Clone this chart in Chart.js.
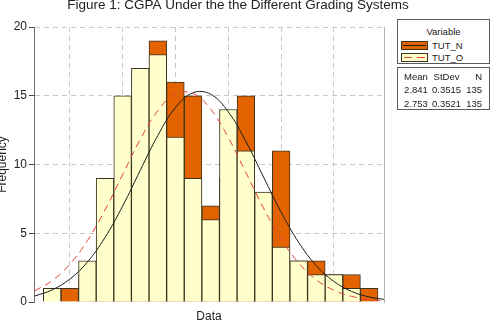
<!DOCTYPE html>
<html>
<head>
<meta charset="utf-8">
<script src="https://cdn.jsdelivr.net/npm/chart.js@4.4.1/dist/chart.umd.min.js"></script>
<style>
  html, body { margin: 0; padding: 0; background: #fff; }
  #wrap { position: relative; width: 493px; height: 327px; overflow: hidden; }
  #chart { position: absolute; left: 0; top: 0; }
  .box {
    position: absolute; left: 397px; width: 93px; box-sizing: border-box;
    border: 1px solid #5a5a5a; background: #fff;
    font: 9.5px "Liberation Sans", Arial, sans-serif; color: #222;
  }
  .box div { position: absolute; line-height: 11px; white-space: nowrap; }
  .swatch { width: 27px; height: 9px; box-sizing: border-box; border: 1px solid #3c3320; }
  .swatch i { position: absolute; left: 1px; right: 1px; top: 3px; height: 1px; }
</style>
</head>
<body>
<div id="wrap">
  <canvas id="chart" width="493" height="327"></canvas>
  <div class="box" id="legend-vars" style="top:19px;height:45px;"></div>
  <div class="box" id="legend-stats" style="top:67px;height:43px;"></div>
</div>
<script>
  const TITLE = "Figure 1: CGPA Under the the Different Grading Systems";
  const X_TITLE = "Data";
  const Y_TITLE = "Frequency";

  // histogram bins (midpoints, width 0.1)
  const binCenters = [2.0, 2.1, 2.2, 2.3, 2.4, 2.5, 2.6, 2.7, 2.8, 2.9, 3.0, 3.1, 3.2, 3.3, 3.4, 3.5, 3.6, 3.7, 3.8];
  const countsN = [0, 1, 2, 5, 8, 10, 19, 16, 15, 7, 9, 15, 6, 11, 3, 3, 2, 2, 1];
  const countsO = [1, 0, 3, 9, 15, 17, 18, 12, 9, 6, 14, 11, 8, 4, 3, 2, 2, 1, 0];

  // fitted normal curves
  const fitX = [1.9, 2.0, 2.1, 2.2, 2.3, 2.4, 2.5, 2.6, 2.7, 2.8, 2.9, 3.0, 3.1, 3.2, 3.3, 3.4, 3.5, 3.6, 3.7, 3.8, 3.9];
  const fitN = [0.43, 0.88, 1.66, 2.90, 4.69, 6.97, 9.57, 12.11, 14.14, 15.22, 15.11, 13.83, 11.68, 9.09, 6.53, 4.33, 2.64, 1.49, 0.77, 0.37, 0.16];
  const fitO = [0.81, 1.55, 2.74, 4.46, 6.69, 9.26, 11.82, 13.92, 15.13, 15.16, 14.02, 11.96, 9.41, 6.83, 4.58, 2.83, 1.61, 0.85, 0.41, 0.18, 0.08];

  const seriesNames = ["TUT_N", "TUT_O"];
  const statMean = ["2.841", "2.753"];
  const statStDev = ["0.3515", "0.3521"];
  const statN = ["135", "135"];

  const xGridTicks = [2.1, 2.4, 2.7, 3.0, 3.3, 3.6];
  const yTicks = [0, 5, 10, 15, 20];

  const ORANGE = "#e26300";
  const YELLOW = "#ffffcc";
  const EDGE = "#3c3320";
  const RED = "#e8413a";
  const FONT = "'Liberation Sans', Arial, sans-serif";

  buildLegend();

  new Chart(document.getElementById("chart"), {
    type: "bar",
    data: {
      datasets: [
        {
          type: "line",
          label: seriesNames[1] + " fit",
          data: fitX.map((x, i) => ({ x, y: fitO[i] })),
          borderColor: RED,
          borderWidth: 1,
          borderDash: [7, 5],
          pointRadius: 0,
          tension: 0.4,
          order: 0,
        },
        {
          type: "line",
          label: seriesNames[0] + " fit",
          data: fitX.map((x, i) => ({ x, y: fitN[i] })),
          borderColor: "#1e1e1e",
          borderWidth: 1,
          pointRadius: 0,
          tension: 0.4,
          order: 1,
        },
        {
          label: seriesNames[1],
          data: binCenters.map((x, i) => ({ x, y: countsO[i] })),
          backgroundColor: YELLOW,
          borderColor: EDGE,
          borderWidth: 1,
          grouped: false,
          barPercentage: 1,
          categoryPercentage: 1,
          order: 2,
        },
        {
          label: seriesNames[0],
          data: binCenters.map((x, i) => ({ x, y: countsN[i] })),
          backgroundColor: ORANGE,
          borderColor: EDGE,
          borderWidth: 1,
          grouped: false,
          barPercentage: 1,
          categoryPercentage: 1,
          order: 3,
        },
      ],
    },
    options: {
      responsive: false,
      animation: false,
      layout: { padding: { left: 0, right: 17, top: 0, bottom: 0 } },
      plugins: {
        legend: { display: false },
        tooltip: { enabled: false },
        title: {
          display: true,
          text: TITLE,
          color: "#222",
          font: { family: FONT, size: 13.5, weight: "normal" },
          padding: { top: -3, bottom: 13.8 },
        },
      },
      scales: {
        x: {
          type: "linear",
          min: 1.897,
          max: 3.884,
          offset: false,
          afterBuildTicks(scale) {
            scale.ticks = xGridTicks.map((value) => ({ value }));
          },
          afterFit(scale) {
            scale.height = 25;
          },
          ticks: { display: false },
          grid: { color: "#c8c8c8", drawTicks: false, tickLength: 0, offset: false },
          border: { display: false, dash: [5, 4] },
          title: {
            display: true,
            text: X_TITLE,
            color: "#222",
            font: { family: FONT, size: 12 },
            padding: { top: 0, bottom: 3 },
          },
        },
        y: {
          min: 0,
          max: 20,
          afterBuildTicks(scale) {
            scale.ticks = yTicks.map((value) => ({ value }));
          },
          afterFit(scale) {
            scale.width = 34;
          },
          ticks: { color: "#222", font: { family: FONT, size: 12 }, padding: 2 },
          grid: {
            color: (ctx) => (ctx.tick && ctx.tick.value === 0 ? "rgba(0,0,0,0)" : "#c8c8c8"),
            tickColor: "#444",
            tickLength: 5,
          },
          border: { display: true, color: "#6e6e6e", dash: [5, 4] },
          title: {
            display: true,
            text: Y_TITLE,
            color: "#222",
            font: { family: FONT, size: 12 },
            padding: { top: -4.2, bottom: 0 },
          },
        },
        y2: {
          position: "right",
          min: 0,
          max: 20,
          afterFit(scale) {
            scale.width = 92;
          },
          ticks: { display: false },
          grid: { display: false, drawTicks: false },
          border: { display: true, color: "#b4b4b4" },
        },
      },
    },
  });

  function buildLegend() {
    const vars = document.getElementById("legend-vars");
    const fills = [ORANGE, YELLOW];
    const lines = [
      "background:#1e1e1e;",
      `background:repeating-linear-gradient(to right, transparent 0 1px, ${RED} 1px 9px, transparent 9px 13px);`,
    ];
    let html = `<div style="left:0;width:100%;text-align:center;top:6px;">Variable</div>`;
    seriesNames.forEach((name, i) => {
      const top = 21 + i * 12;
      html += `<div class="swatch" style="left:3px;top:${top}px;background:${fills[i]};"><i style="${lines[i]}"></i></div>`;
      html += `<div style="left:34px;top:${top - 1}px;">${name}</div>`;
    });
    vars.innerHTML = html;

    const stats = document.getElementById("legend-stats");
    const rows = [["Mean", "StDev", "N"]];
    statMean.forEach((m, i) => rows.push([m, statStDev[i], statN[i]]));
    let s = "";
    rows.forEach((r, i) => {
      const top = 3 + i * 13.3;
      s += `<div style="left:2px;width:32px;text-align:center;top:${top}px;">${r[0]}</div>`;
      s += `<div style="left:31px;width:35px;text-align:center;top:${top}px;">${r[1]}</div>`;
      s += `<div style="right:7px;text-align:right;top:${top}px;">${r[2]}</div>`;
    });
    stats.innerHTML = s;
  }
</script>
</body>
</html>
